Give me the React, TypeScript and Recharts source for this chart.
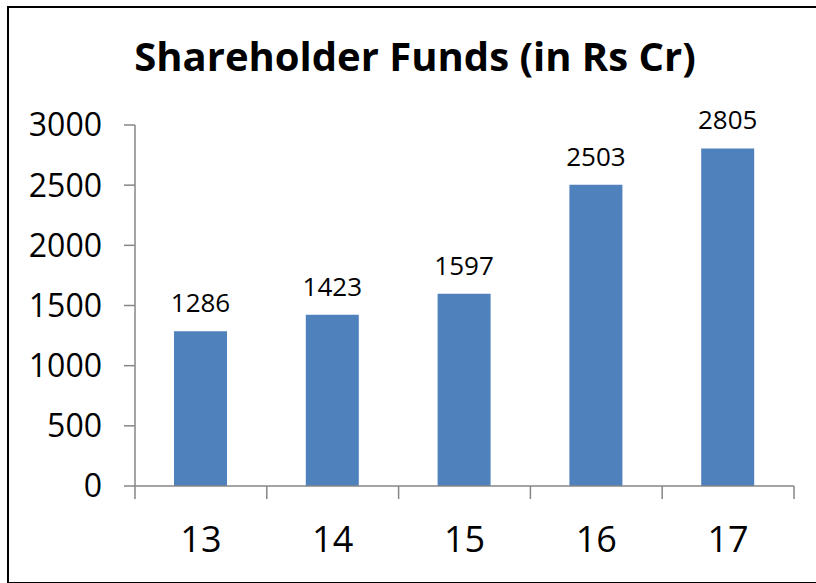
import { BarChart, Bar, XAxis, YAxis, LabelList } from "recharts";

const years = ["13", "14", "15", "16", "17"];
const funds = [1286, 1423, 1597, 2503, 2805];
const yTicks = [0, 500, 1000, 1500, 2000, 2500, 3000];

const data = years.map((year, i) => ({ year, value: funds[i] }));

const FONT = "'Open Sans', Lato, sans-serif";
const AXIS = "#868686";
const X_TICK_LEN = 13;
const X_LABEL_GAP = 40;

// Excel puts the category tick marks on the band edges, not the centres,
// so draw them from the tick's own band offset
function CategoryTick(props: any) {
  const { x, y, payload } = props;
  const half = payload.offset || 0;
  const axisY = y - X_LABEL_GAP;
  const isLast = payload.value === years[years.length - 1];
  return (
    <g>
      <line
        x1={x - half}
        x2={x - half}
        y1={axisY}
        y2={axisY + X_TICK_LEN}
        stroke={AXIS}
        strokeWidth={1.5}
      />
      {isLast && (
        <line
          x1={x + half}
          x2={x + half}
          y1={axisY}
          y2={axisY + X_TICK_LEN}
          stroke={AXIS}
          strokeWidth={1.5}
        />
      )}
      <text
        x={x}
        y={y}
        dy="0.71em"
        textAnchor="middle"
        fill="#000"
        fontSize={36}
        fontFamily={FONT}
      >
        {payload.value}
      </text>
    </g>
  );
}

export default function App() {
  return (
    <div
      style={{
        position: "fixed",
        left: 0,
        top: 0,
        width: 816,
        height: 583,
        background: "#fff",
        fontFamily: FONT,
      }}
    >
      {/* frame, right side runs off the picture */}
      <div
        style={{
          position: "absolute",
          left: 7,
          top: 6,
          width: 820,
          height: 574,
          border: "2px solid #000",
        }}
      />
      <div
        style={{
          position: "absolute",
          left: 14,
          right: 0,
          top: 30,
          textAlign: "center",
          fontSize: 40,
          fontWeight: 700,
          color: "#000",
          lineHeight: "52px",
        }}
      >
        Shareholder Funds (in Rs Cr)
      </div>
      <div style={{ position: "absolute", left: 0, top: 0 }}>
        <BarChart
          width={816}
          height={583}
          data={data}
          margin={{ top: 125, right: 22, bottom: 37, left: 8 }}
        >
          <XAxis
            dataKey="year"
            height={60}
            interval={0}
            axisLine={{ stroke: AXIS, strokeWidth: 1.5 }}
            tickLine={false}
            tickSize={0}
            tickMargin={X_LABEL_GAP}
            tick={<CategoryTick />}
          />
          <YAxis
            domain={[0, 3000]}
            ticks={yTicks}
            width={127}
            tickSize={11}
            tickMargin={22}
            interval={0}
            axisLine={{ stroke: AXIS, strokeWidth: 1.5 }}
            tickLine={{ stroke: AXIS, strokeWidth: 1.5 }}
            tick={{ fill: "#000", fontSize: 32, fontFamily: FONT }}
          />
          <Bar
            dataKey="value"
            fill="#4F81BD"
            barSize={53}
            isAnimationActive={false}
          >
            <LabelList
              dataKey="value"
              position="top"
              offset={19}
              fill="#000"
              fontSize={26}
              fontFamily={FONT}
            />
          </Bar>
        </BarChart>
      </div>
    </div>
  );
}
